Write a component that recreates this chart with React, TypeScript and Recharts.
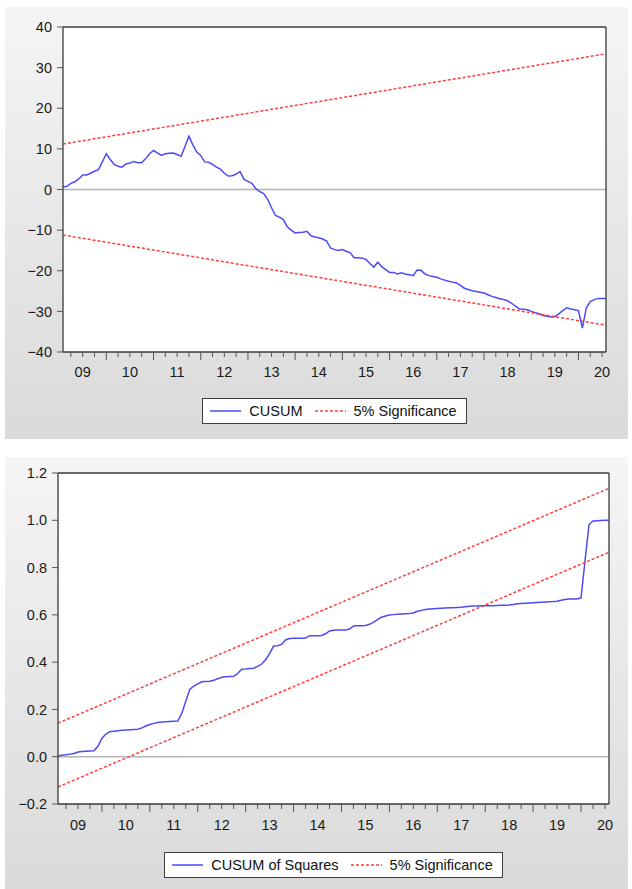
import { LineChart, Line, XAxis, YAxis, CartesianGrid, ReferenceLine, Legend } from 'recharts'

const FONT = '"Liberation Sans", Arial, Helvetica, sans-serif'
const BLUE = '#4b4bf7'
const RED = '#ff3d3d'
const AXIS = '#3a3a3a'
const SIG_NAME = '5% Significance'

// months counted from Jan 2009 = 0; sample runs 2009M02 .. 2020M08
const months = Array.from({ length: 139 }, (_, i) => i + 1)
const quarterTicks = Array.from({ length: 46 }, (_, i) => (i + 1) * 3)
const yearLabels = ['09', '10', '11', '12', '13', '14', '15', '16', '17', '18', '19', '20']

const cusum = [
    0.6, 0.8, 1.5, 1.9, 2.6, 3.6, 3.6, 4.0, 4.5, 4.9,
    6.8, 8.8, 7.4, 6.2, 5.7, 5.5, 6.3, 6.5, 6.9, 6.6,
    6.6, 7.6, 8.8, 9.6, 9.0, 8.4, 8.8, 8.9, 9.0, 8.6,
    8.2, 10.6, 13.1, 11.0, 9.2, 8.4, 6.8, 6.7, 6.2, 5.5,
    5.0, 4.0, 3.3, 3.4, 3.8, 4.4, 2.5, 2.0, 1.5, 0.2,
    -0.5, -1.0, -2.4, -4.5, -6.4, -6.8, -7.4, -9.2, -10.0, -10.7,
    -10.6, -10.5, -10.3, -11.4, -11.7, -11.9, -12.2, -12.7, -14.4, -14.8,
    -15.0, -14.8, -15.2, -15.6, -16.8, -16.8, -16.9, -17.2, -18.2, -19.1,
    -17.9, -19.0, -19.7, -20.4, -20.4, -20.8, -20.5, -20.8, -21.0, -21.2,
    -19.8, -19.9, -20.8, -21.2, -21.4, -21.6, -22.0, -22.3, -22.6, -22.8,
    -23.0, -23.6, -24.3, -24.6, -24.9, -25.1, -25.3, -25.5, -25.9, -26.3,
    -26.6, -26.9, -27.1, -27.4, -28.0, -28.7, -29.4, -29.5, -29.6, -30.0,
    -30.3, -30.6, -31.0, -31.2, -31.4, -31.3, -30.6, -29.8, -29.1, -29.4,
    -29.6, -29.8, -34.1, -29.1, -27.6, -27.1, -26.8, -26.8, -26.8,
]

const cusumSq = [
    0.004, 0.006, 0.008, 0.011, 0.014, 0.020, 0.022, 0.023, 0.024, 0.025,
    0.044, 0.078, 0.096, 0.106, 0.108, 0.110, 0.112, 0.113, 0.114, 0.115,
    0.116, 0.122, 0.130, 0.136, 0.141, 0.145, 0.147, 0.148, 0.149, 0.150,
    0.151, 0.183, 0.235, 0.285, 0.299, 0.308, 0.317, 0.318, 0.319, 0.323,
    0.330, 0.336, 0.338, 0.339, 0.340, 0.352, 0.370, 0.371, 0.373, 0.374,
    0.382, 0.392, 0.410, 0.436, 0.468, 0.469, 0.475, 0.494, 0.500, 0.501,
    0.501, 0.501, 0.502, 0.512, 0.512, 0.512, 0.513, 0.520, 0.532, 0.535,
    0.536, 0.536, 0.536, 0.540, 0.553, 0.554, 0.554, 0.555, 0.560, 0.568,
    0.580, 0.590, 0.595, 0.599, 0.601, 0.603, 0.604, 0.605, 0.606, 0.608,
    0.615, 0.619, 0.623, 0.625, 0.626, 0.627, 0.628, 0.629, 0.630, 0.630,
    0.631, 0.632, 0.634, 0.636, 0.637, 0.637, 0.638, 0.638, 0.639, 0.639,
    0.640, 0.641, 0.641, 0.642, 0.644, 0.647, 0.648, 0.649, 0.650, 0.651,
    0.652, 0.653, 0.654, 0.655, 0.656, 0.658, 0.662, 0.665, 0.667, 0.667,
    0.667, 0.672, 0.830, 0.982, 0.997, 0.998, 0.999, 1.0, 1.0,
]

// 5% bands, first and last observation
const bandMonths = [1, 139]
const cusumUpper = [11.2, 33.4]
const cusumLower = [-11.2, -33.4]
const sqUpper = [0.142, 1.135]
const sqLower = [-0.128, 0.865]

const cusumTicks = [-40, -30, -20, -10, 0, 10, 20, 30, 40]
const sqTicks = [-0.2, 0, 0.2, 0.4, 0.6, 0.8, 1.0, 1.2]

const toSeries = (xs: number[], ys: number[]) => xs.map((m, i) => ({ m, v: ys[i] }))

const minus = (s: string) => s.replace('-', '\u2212')

const MonthTick = (props: any) => {
    const { x, y, payload, labelDy } = props
    const m = payload.value
    const major = m % 12 === 0
    return (
        <g>
            <line x1={x} x2={x} y1={y} y2={y + (major ? 8 : 5)} stroke="#555" strokeWidth={1} />
            {m % 12 === 6 && (
                <text x={x} y={y + labelDy} textAnchor="middle" fontSize={14.5} fontFamily={FONT} fill="#1a1a1a">
                    {yearLabels[(m - 6) / 12]}
                </text>
            )}
        </g>
    )
}

const LegendBox = ({ payload }: any) => {
    // series first, band second (recharts sorts by name otherwise)
    const items = (payload || [])
        .filter((p: any) => p.type !== 'none')
        .sort((a: any, b: any) => (a.value === SIG_NAME ? 1 : 0) - (b.value === SIG_NAME ? 1 : 0))
    return (
        <div style={{ display: 'flex', justifyContent: 'center' }}>
            <div
                style={{
                    display: 'flex',
                    alignItems: 'center',
                    height: 24,
                    padding: '0 9px 0 7px',
                    background: '#fff',
                    border: '1.5px solid #3d3d3d',
                    fontFamily: FONT,
                    fontSize: 14.5,
                    color: '#111',
                }}
            >
                {items.map((p: any, i: number) => (
                    <div key={i} style={{ display: 'flex', alignItems: 'center', marginLeft: i ? 12 : 0 }}>
                        <svg width={31} height={4}>
                            <line x1={0} y1={2} x2={31} y2={2} stroke={p.color} strokeWidth={1.5} strokeDasharray={p.payload?.strokeDasharray} />
                        </svg>
                        <span style={{ marginLeft: 8 }}>{p.value}</span>
                    </div>
                ))}
            </div>
        </div>
    )
}

interface PanelProps {
    top: number
    values: number[]
    upper: number[]
    lower: number[]
    domain: [number, number]
    ticks: number[]
    fmt: (v: number) => string
    name: string
    margin: { top: number; right: number; bottom: number; left: number }
    yWidth: number
    labelDy: number
    legendTop: number
    plotWidth: number
}

function Panel(p: PanelProps) {
    const main = toSeries(months, p.values)
    const up = toSeries(bandMonths, p.upper)
    const lo = toSeries(bandMonths, p.lower)
    return (
        <div
            style={{
                position: 'absolute',
                left: 5,
                top: p.top,
                width: 623,
                height: 432,
                background: 'linear-gradient(#f5f5f5, #dadada)',
            }}
        >
            <LineChart width={623} height={432} margin={p.margin}>
                <CartesianGrid fill="#fff" stroke="none" horizontal={false} vertical={false} />
                <XAxis
                    dataKey="m"
                    type="number"
                    domain={[1, 139]}
                    allowDataOverflow
                    ticks={quarterTicks}
                    interval={0}
                    tickSize={0}
                    tickMargin={0}
                    height={30}
                    axisLine={{ stroke: AXIS, strokeWidth: 1.3 }}
                    tickLine={false}
                    tick={<MonthTick labelDy={p.labelDy} />}
                />
                <XAxis xAxisId="top" orientation="top" dataKey="m" type="number" domain={[1, 139]} height={1} tick={false} tickLine={false} axisLine={{ stroke: AXIS, strokeWidth: 1.3 }} />
                <YAxis
                    type="number"
                    domain={p.domain}
                    allowDataOverflow
                    ticks={p.ticks}
                    interval={0}
                    width={p.yWidth}
                    tickSize={6}
                    tickMargin={5}
                    tickFormatter={p.fmt}
                    tick={{ fontSize: 14.5, fontFamily: FONT, fill: '#1a1a1a' }}
                    tickLine={{ stroke: '#555' }}
                    axisLine={{ stroke: AXIS, strokeWidth: 1.3 }}
                />
                <YAxis yAxisId="right" orientation="right" domain={p.domain} width={1} tick={false} tickLine={false} axisLine={{ stroke: AXIS, strokeWidth: 1.3 }} />
                <ReferenceLine y={0} stroke="#b5b5b5" strokeWidth={1.5} />
                <Line data={main} dataKey="v" name={p.name} stroke={BLUE} strokeWidth={1.5} dot={false} isAnimationActive={false} />
                <Line data={up} dataKey="v" name={SIG_NAME} stroke={RED} strokeWidth={1.5} strokeDasharray="3 2" dot={false} isAnimationActive={false} />
                <Line data={lo} dataKey="v" name="lower" legendType="none" stroke={RED} strokeWidth={1.5} strokeDasharray="3 2" dot={false} isAnimationActive={false} />
                <Legend
                    layout="horizontal"
                    verticalAlign="middle"
                    align="center"
                    content={<LegendBox />}
                    wrapperStyle={{ top: p.legendTop, left: p.yWidth, width: p.plotWidth }}
                />
            </LineChart>
        </div>
    )
}

export default function App() {
    return (
        <div style={{ position: 'absolute', left: 0, top: 0, width: 632, height: 889, background: '#fff' }}>
            <Panel
                top={7}
                values={cusum}
                upper={cusumUpper}
                lower={cusumLower}
                domain={[-40, 40]}
                ticks={cusumTicks}
                fmt={(v) => minus(String(v))}
                name="CUSUM"
                margin={{ top: 19, right: 21, bottom: 57, left: 0 }}
                yWidth={58}
                labelDy={25}
                legendTop={391}
                plotWidth={543}
            />
            <Panel
                top={457}
                values={cusumSq}
                upper={sqUpper}
                lower={sqLower}
                domain={[-0.2, 1.2]}
                ticks={sqTicks}
                fmt={(v) => minus(v.toFixed(1))}
                name="CUSUM of Squares"
                margin={{ top: 15, right: 18, bottom: 55, left: 0 }}
                yWidth={53}
                labelDy={26}
                legendTop={395}
                plotWidth={551}
            />
        </div>
    )
}
